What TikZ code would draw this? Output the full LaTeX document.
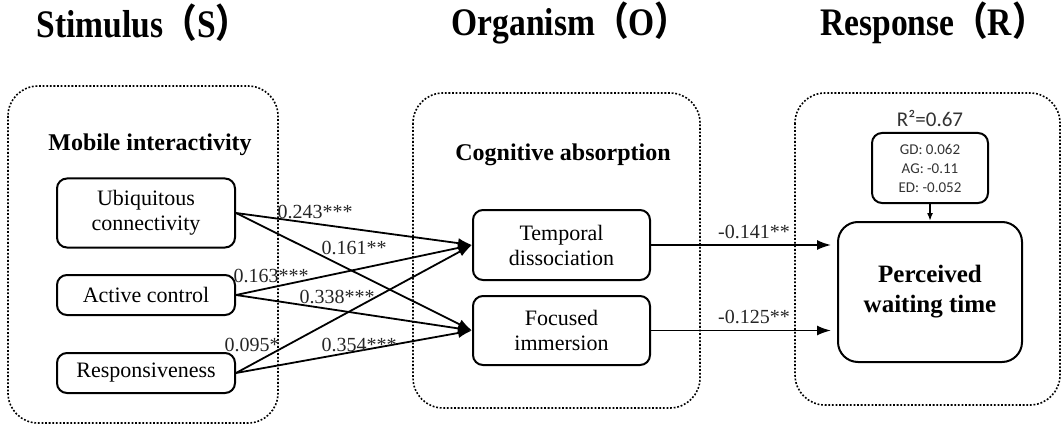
\documentclass[tikz,border=0pt]{standalone}
\usepackage{fontspec}
\setmainfont{Liberation Serif}
\newfontfamily\cjk{Noto Sans CJK SC}
\newfontfamily\calibri{Carlito}
\usepackage{xcolor}
\usetikzlibrary{positioning,calc,arrows.meta}

\begin{document}
\begin{tikzpicture}[x=0.5pt, y=-0.5pt,
    group/.style={draw, line width=0.8pt, dash pattern=on 0.9pt off 0.9pt, rounded corners=15pt},
    var/.style={draw, line width=1pt, rounded corners=5pt, align=center, font=\fontsize{11}{12.5}\selectfont, inner sep=2pt},
    heading/.style={font=\fontsize{19.5}{21}\selectfont\bfseries, xscale=0.86, transform shape},
    grouplabel/.style={font=\fontsize{12}{14}\selectfont\bfseries},
    coef/.style={font=\fontsize{10}{12}\selectfont, text=black!85, inner sep=0pt},
    arr/.style={-{Latex[length=7pt,width=5pt]}, line width=0.9pt}]
            \useasboundingbox (0,0) rectangle (1063,427);

            % Headings
            \node[heading] (hs) at (143,23) {Stimulus{\cjk（}S{\cjk）}};
            \node[heading] (ho) at (570,23) {Organism{\cjk（}O{\cjk）}};
            \node[heading] (hr) at (933,23) {Response{\cjk（}R{\cjk）}};

            % Groups
            \draw[group] (8,86) rectangle (278,423);
            \draw[group] (413,93) rectangle (700,408);
            \draw[group] (795,93) rectangle (1060,405);

            % Stimulus
            \node[grouplabel] (mi) at (150,145) {Mobile interactivity};
            \node[var, minimum width=89pt, minimum height=34.5pt] (uc) at (146,213) {Ubiquitous\\connectivity};
            \node[var, minimum width=89pt, minimum height=20pt] (ac) at (146,295) {Active control};
            \node[var, minimum width=89pt, minimum height=20pt] (rs) at (146,373) {Responsiveness};

            % Organism
            \node[grouplabel] (ca) at (563,155) {Cognitive absorption};
            \node[var, minimum width=88.5pt, minimum height=35pt] (td) at (561.5,245) {Temporal\\dissociation};
            \node[var, minimum width=88.5pt, minimum height=34.5pt] (fi) at (561.5,330.5) {Focused\\immersion};

            % Response
            \node[font=\calibri\fontsize{10.5}{12}\selectfont, text=black!80] (r2) at (930,118) {R²=0.67};
            \node[var, minimum width=58pt, minimum height=35pt, font=\calibri\fontsize{7.5}{9.5}\selectfont, text=black!80] (ctrl) at (930,168) {GD: 0.062\\AG: -0.11\\ED: -0.052};
            \node[var, minimum width=92pt, minimum height=70pt, rounded corners=10pt, font=\fontsize{12.5}{15}\selectfont\bfseries] (pwt) at (930,292) {Perceived\\waiting time};

            % Paths S -> O
            \draw[arr] (uc.east) -- (td.west);
            \draw[arr] (uc.east) -- (fi.west);
            \draw[arr] (ac.east) -- (td.west);
            \draw[arr] (ac.east) -- (fi.west);
            \draw[arr] (rs.east) -- (td.west);
            \draw[arr] (rs.east) -- (fi.west);

            % Paths O -> R
            \draw[arr, shorten >=3pt] (td.east) -- (td.east -| pwt.west);
            \draw[arr, shorten >=3pt] (fi.east) -- (fi.east -| pwt.west);
            \draw[arr, -{Latex[length=4pt,width=3pt]}] (ctrl.south) -- (pwt.north);

            % Coefficients
            \node[coef] (c1) at (315,212) {0.243***};
            \node[coef] (c2) at (354,248) {0.161**};
            \node[coef] (c3) at (271,276) {0.163***};
            \node[coef] (c4) at (337,297) {0.338***};
            \node[coef] (c5) at (252,345) {0.095*};
            \node[coef] (c6) at (359,345) {0.354***};
            \node[coef] (c7) at (754,232) {-0.141**};
            \node[coef] (c8) at (754,317) {-0.125**};
\end{tikzpicture}
\end{document}
